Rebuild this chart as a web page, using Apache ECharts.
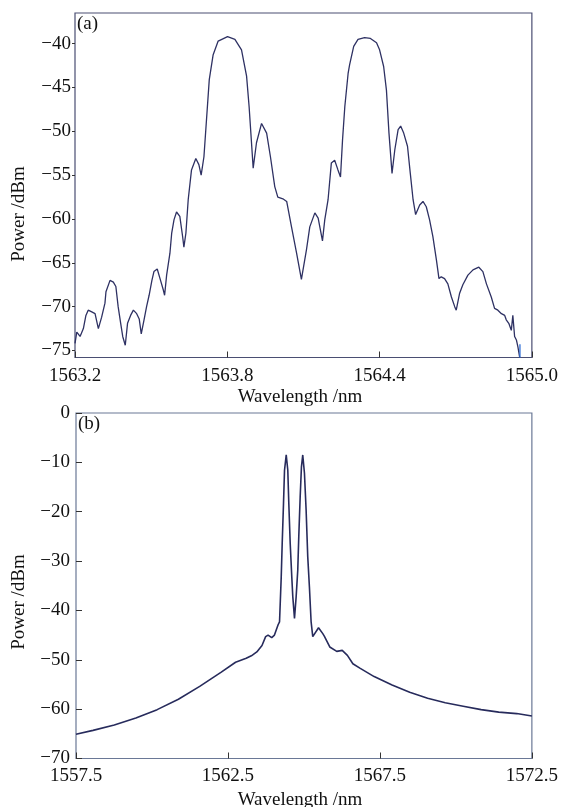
<!DOCTYPE html>
<html>
<head>
<meta charset="utf-8">
<script src="https://cdn.jsdelivr.net/npm/echarts@6/dist/echarts.min.js"></script>
<style>
html,body{margin:0;padding:0;background:#fff;}
#chart{width:561px;height:807px;}
</style>
</head>
<body>
<div id="chart"></div>
<script>
// ---- Panel (a) data ----
const topWavelength = [1563.200,1563.207,1563.220,1563.233,1563.243,1563.252,1563.266,1563.279,1563.292,1563.305,1563.318,1563.322,1563.338,1563.351,1563.361,1563.370,1563.380,1563.388,1563.398,1563.407,1563.419,1563.430,1563.443,1563.453,1563.461,1563.472,1563.482,1563.492,1563.503,1563.511,1563.524,1563.535,1563.548,1563.553,1563.561,1563.574,1563.581,1563.590,1563.600,1563.613,1563.624,1563.629,1563.637,1563.646,1563.659,1563.676,1563.688,1563.697,1563.708,1563.718,1563.729,1563.744,1563.764,1563.801,1563.830,1563.856,1563.876,1563.886,1563.902,1563.915,1563.935,1563.955,1563.970,1563.987,1563.999,1564.019,1564.034,1564.053,1564.073,1564.092,1564.112,1564.125,1564.145,1564.158,1564.175,1564.184,1564.197,1564.210,1564.223,1564.236,1564.246,1564.254,1564.263,1564.276,1564.282,1564.298,1564.315,1564.341,1564.364,1564.388,1564.400,1564.416,1564.427,1564.437,1564.449,1564.460,1564.473,1564.483,1564.495,1564.510,1564.521,1564.532,1564.542,1564.558,1564.571,1564.584,1564.597,1564.610,1564.624,1564.634,1564.643,1564.656,1564.669,1564.683,1564.696,1564.702,1564.715,1564.728,1564.748,1564.768,1564.791,1564.807,1564.821,1564.840,1564.853,1564.866,1564.880,1564.893,1564.899,1564.909,1564.919,1564.925,1564.932,1564.939,1564.945,1564.952];
const topPower = [-74.2,-72.9,-73.4,-72.5,-71.0,-70.4,-70.6,-70.8,-72.5,-71.2,-69.6,-68.3,-67.0,-67.2,-67.7,-70.0,-71.9,-73.4,-74.4,-71.9,-71.0,-70.4,-70.8,-71.4,-73.1,-71.5,-70.0,-68.7,-67.0,-66.0,-65.7,-66.8,-68.1,-68.7,-66.4,-63.9,-61.6,-60.1,-59.2,-59.7,-62.0,-63.2,-61.6,-57.8,-54.4,-53.1,-53.8,-55.0,-52.9,-48.7,-44.1,-41.3,-39.7,-39.2,-39.5,-40.7,-43.7,-47.2,-54.2,-51.3,-49.1,-50.2,-52.9,-56.3,-57.5,-57.7,-58.0,-60.9,-63.9,-66.9,-63.5,-60.9,-59.3,-59.9,-62.5,-60.1,-57.8,-53.6,-53.3,-54.4,-55.2,-51.0,-47.2,-43.4,-42.4,-40.3,-39.5,-39.3,-39.4,-39.9,-40.7,-42.6,-45.3,-50.2,-54.8,-52.1,-49.8,-49.4,-50.2,-51.7,-54.8,-57.8,-59.5,-58.4,-58.0,-58.6,-60.1,-62.0,-64.7,-66.8,-66.6,-66.8,-67.4,-68.9,-70.0,-70.4,-68.5,-67.5,-66.4,-65.8,-65.5,-66.0,-67.4,-68.9,-70.2,-70.4,-70.8,-71.0,-71.5,-71.9,-72.7,-71.0,-73.4,-73.8,-74.6,-75.8];
const topTailWavelength = [1564.953,1564.953];
const topTailPower = [-74.3,-75.8];
const topXTicks = [1563.2,1563.8,1564.4,1565.0];
const topYTicks = [-75,-70,-65,-60,-55,-50,-45,-40];

// ---- Panel (b) data ----
const bottomWavelength = [1557.5,1558.06,1558.76,1559.47,1560.17,1560.87,1561.57,1562.28,1562.75,1563.10,1563.27,1563.45,1563.62,1563.74,1563.82,1563.94,1564.03,1564.15,1564.197,1564.253,1564.285,1564.328,1564.361,1564.417,1564.443,1564.469,1564.502,1564.548,1564.600,1564.633,1564.689,1564.744,1564.797,1564.830,1564.876,1564.918,1564.961,1564.980,1565.017,1565.072,1565.125,1565.180,1565.236,1565.29,1565.48,1565.62,1565.67,1565.85,1566.08,1566.26,1566.43,1566.61,1566.84,1567.31,1567.90,1568.48,1569.07,1569.65,1570.24,1570.83,1571.41,1572.00,1572.5];
const bottomPower = [-65.1,-64.3,-63.2,-61.8,-60.1,-58.0,-55.4,-52.5,-50.5,-49.7,-49.2,-48.4,-47.1,-45.3,-45.0,-45.5,-45.0,-42.9,-42.3,-33.2,-26.4,-18.3,-11.6,-8.5,-8.5,-11.6,-18.3,-26.4,-33.2,-37.2,-41.6,-37.2,-31.8,-25.1,-17.0,-10.9,-8.5,-8.6,-12.2,-19.7,-29.1,-35.2,-42.3,-45.3,-43.5,-44.7,-45.2,-47.4,-48.3,-48.1,-49.1,-50.8,-51.7,-53.4,-55.1,-56.6,-57.8,-58.7,-59.4,-60.1,-60.6,-60.9,-61.4];
const bottomXTicks = [1557.5,1562.5,1567.5,1572.5];
const bottomYTicks = [0,-10,-20,-30,-40,-50,-60,-70];

const pair = (xs, ys) => xs.map((x, i) => [x, ys[i]]);
const minus = v => String(v).replace('-', '\u2212');
const FONT = 'Liberation Serif';
const FS = 19;
const txt = { color: '#111', fontFamily: FONT, fontSize: FS };
const font = FS + 'px "Liberation Serif"';

const chart = echarts.init(document.getElementById('chart'), null, { renderer: 'canvas' });
chart.setOption({
  animation: false,
  backgroundColor: '#fff',
  grid: [
    { left: 75, right: 29, top: 13, height: 344.5, show: true, borderColor: '#4a4e72', borderWidth: 1.2, backgroundColor: 'transparent' },
    { left: 76, right: 28, top: 413, height: 345.5, show: true, borderColor: '#6a7896', borderWidth: 1.2, backgroundColor: 'transparent' }
  ],
  xAxis: [
    { type: 'value', gridIndex: 0, position: 'bottom', min: topXTicks[0], max: topXTicks[3], interval: 0.6,
      axisLine: { show: false, onZero: false }, splitLine: { show: false },
      axisTick: { show: true, inside: true, length: 6, lineStyle: { color: '#333' } },
      axisLabel: { ...txt, margin: 9, showMinLabel: true, showMaxLabel: true, customValues: topXTicks, formatter: v => v.toFixed(1) } },
    { type: 'value', gridIndex: 1, position: 'bottom', min: bottomXTicks[0], max: bottomXTicks[3], interval: 5,
      axisLine: { show: false, onZero: false }, splitLine: { show: false },
      axisTick: { show: true, inside: true, length: 6, lineStyle: { color: '#333' } },
      axisLabel: { ...txt, margin: 8, showMinLabel: true, showMaxLabel: true, customValues: bottomXTicks, formatter: v => v.toFixed(1) } }
  ],
  yAxis: [
    { type: 'value', gridIndex: 0, position: 'left', min: -75.8, max: -36.5,
      axisLine: { show: false, onZero: false }, splitLine: { show: false },
      axisTick: { show: true, inside: false, length: 3, lineStyle: { color: '#333' }, customValues: topYTicks },
      axisLabel: { ...txt, margin: 4, customValues: topYTicks, formatter: v => minus(v) } },
    { type: 'value', gridIndex: 1, position: 'left', min: -70, max: 0, interval: 10,
      axisLine: { show: false, onZero: false }, splitLine: { show: false },
      axisTick: { show: true, inside: true, length: 6, lineStyle: { color: '#333' } },
      axisLabel: { ...txt, margin: 6, showMinLabel: true, showMaxLabel: true, formatter: v => minus(v) } }
  ],
  graphic: [
    { type: 'text', left: 77, top: 15, style: { text: '(a)', fill: '#111', font: font } },
    { type: 'text', left: 78, top: 415, style: { text: '(b)', fill: '#111', font: font } },
    { type: 'text', x: 300, y: 397, style: { text: 'Wavelength /nm', fill: '#111', font: font, align: 'center', verticalAlign: 'middle' } },
    { type: 'text', x: 300, y: 800, style: { text: 'Wavelength /nm', fill: '#111', font: font, align: 'center', verticalAlign: 'middle' } },
    { type: 'text', x: 19, y: 214, rotation: Math.PI / 2, style: { text: 'Power /dBm', fill: '#111', font: font, align: 'center', verticalAlign: 'middle' } },
    { type: 'text', x: 19, y: 602, rotation: Math.PI / 2, style: { text: 'Power /dBm', fill: '#111', font: font, align: 'center', verticalAlign: 'middle' } }
  ],
  series: [
    { type: 'line', xAxisIndex: 0, yAxisIndex: 0, data: pair(topWavelength, topPower), showSymbol: false, smooth: false,
      lineStyle: { color: '#2e3163', width: 1.3 } },
    { type: 'line', xAxisIndex: 0, yAxisIndex: 0, data: pair(topTailWavelength, topTailPower), showSymbol: false,
      lineStyle: { color: '#2f6fd6', width: 1.3 } },
    { type: 'line', xAxisIndex: 1, yAxisIndex: 1, data: pair(bottomWavelength, bottomPower), showSymbol: false, smooth: false,
      lineStyle: { color: '#272b5c', width: 1.6 } }
  ]
});
</script>
</body>
</html>
